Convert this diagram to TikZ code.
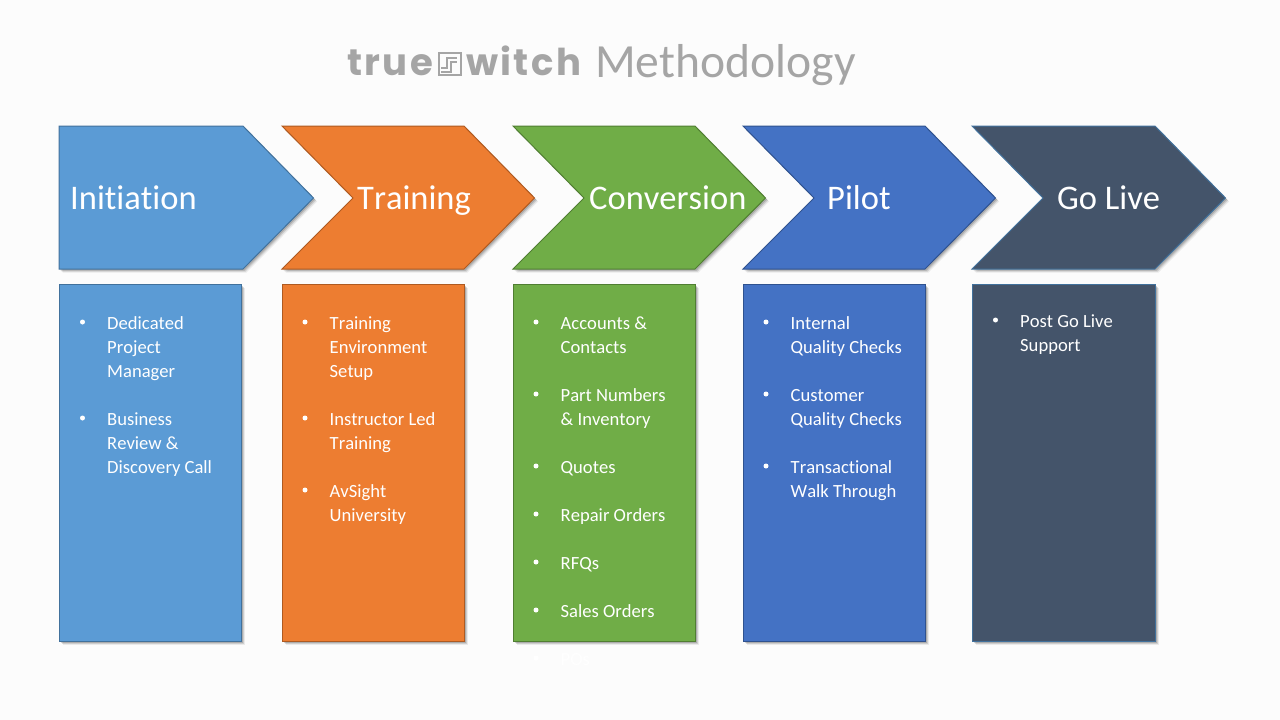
\documentclass[tikz,border=0pt]{standalone}
\usepackage{fontspec}
\setmainfont[Ligatures=NoCommon,Kerning=Off]{Carlito}
\newfontfamily\logofont[LetterSpace=6.5]{Poppins}
\usepackage{tikz}
\usetikzlibrary{shadows}

\definecolor{pageback}{HTML}{FCFCFC}
\definecolor{titlegrey}{HTML}{A5A5A5}
\definecolor{initblue}{HTML}{5B9BD5}
\definecolor{initline}{HTML}{41719C}
\definecolor{trainorange}{HTML}{ED7D31}
\definecolor{trainline}{HTML}{AE5A21}
\definecolor{convgreen}{HTML}{70AD47}
\definecolor{convline}{HTML}{507E32}
\definecolor{pilotblue}{HTML}{4472C4}
\definecolor{pilotline}{HTML}{2F528F}
\definecolor{liveslate}{HTML}{44546A}
\definecolor{liveline}{HTML}{41719C}

\tikzset{
  panel/.style={line width=1pt,
    general shadow={shadow xshift=3.5pt,shadow yshift=-3.5pt,fill=black,opacity=.07},
    general shadow={shadow xshift=2.5pt,shadow yshift=-2.5pt,fill=black,opacity=.12},
    general shadow={shadow xshift=1.5pt,shadow yshift=-1.5pt,fill=black,opacity=.16}},
  stagename/.style={text=white,font=\fontsize{34.5}{34.5}\selectfont,inner sep=0pt,anchor=base west},
  logotext/.style={inner sep=0pt,anchor=base west,text=titlegrey,font=\logofont\bfseries\fontsize{37}{37}\selectfont},
  itemtext/.style={text=white,font=\fontsize{18.6}{24}\selectfont,inner sep=0pt,anchor=north west,align=left},
  itemdot/.style={circle,fill=white,inner sep=0pt,minimum size=5pt},
}
% #1 node name, #2 x of text, #3 y of top, #4 text
\newcommand{\listitem}[4]{
  \node[itemdot] (#1-dot) at (#2-24.5,#3+10.5) {};
  \node[itemtext] (#1) at (#2,#3+.6) {\strut #4};
}

\begin{document}
\begin{tikzpicture}[x=1pt,y=-1pt]
\useasboundingbox[fill=pageback] (0,0) rectangle (1280,720);

% title
\node[logotext] (logotrue) at (347,75) {true};
\node[draw=titlegrey,line width=1.6pt,minimum size=22pt,inner sep=0pt,anchor=south west] (logomark) at (438,76) {};
\begin{scope}[shift={(logomark.south west)},titlegrey,line width=1.3pt]
\draw (3,-8) -- (9,-8) -- (9,-18) -- (19,-18);
\draw (3,-4) -- (13,-4) -- (13,-14) -- (19,-14);
\end{scope}
\node[logotext] (logowitch) at (466,75) {witch};
\node[inner sep=0pt,anchor=base west,text=titlegrey,font=\fontsize{47.6}{47.6}\selectfont] (title) at (595,77) {Methodology};

% chevrons
\draw[panel,fill=initblue,draw=initline] (59,126) -- (243,126) -- (313.5,198) -- (243,269) -- (59,269) -- cycle;
\draw[panel,fill=trainorange,draw=trainline] (282,126) -- (464,126) -- (534.5,198) -- (464,269) -- (282,269) -- (353,198) -- cycle;
\draw[panel,fill=convgreen,draw=convline] (513,126) -- (695,126) -- (765.5,198) -- (695,269) -- (513,269) -- (584,198) -- cycle;
\draw[panel,fill=pilotblue,draw=pilotline] (743,126) -- (925,126) -- (995.5,198) -- (925,269) -- (743,269) -- (814,198) -- cycle;
\draw[panel,fill=liveslate,draw=liveline] (972,126) -- (1155,126) -- (1225.5,198) -- (1155,269) -- (972,269) -- (1043,198) -- cycle;

\node[stagename] (initiation) at (70,209) {Initiation};
\node[stagename] (training) at (357,209) {Training};
\node[stagename] (conversion) at (589,209) {Conversion};
\node[stagename] (pilot) at (827,209) {Pilot};
\node[stagename] (golive) at (1057,209) {Go Live};

% boxes
\draw[panel,fill=initblue,draw=initline] (59,284.5) rectangle (241.5,641);
\draw[panel,fill=trainorange,draw=trainline] (282,284.5) rectangle (464.5,641);
\draw[panel,fill=convgreen,draw=convline] (513,284.5) rectangle (695,641);
\draw[panel,fill=pilotblue,draw=pilotline] (743,284.5) rectangle (925.5,641);
\draw[panel,fill=liveslate,draw=liveline] (972,284.5) rectangle (1155.5,641);

% lists
\listitem{manager}{107}{311.5}{Dedicated\\Project\\Manager}
\listitem{review}{107}{407.5}{Business\\Review \&\\Discovery Call}

\listitem{setup}{329.5}{311.5}{Training\\Environment\\Setup}
\listitem{instructor}{329.5}{407.5}{Instructor Led\\Training}
\listitem{university}{329.5}{479.5}{AvSight\\University}

\listitem{accounts}{560.5}{311.5}{Accounts \&\\Contacts}
\listitem{parts}{560.5}{383.5}{Part Numbers\\\& Inventory}
\listitem{quotes}{560.5}{455.5}{Quotes}
\listitem{repairs}{560.5}{503.5}{Repair Orders}
\listitem{rfqs}{560.5}{551.5}{RFQs}
\listitem{sales}{560.5}{599.5}{Sales Orders}
\listitem{pos}{560.5}{647.5}{POs}

\listitem{internal}{790.5}{311.5}{Internal\\Quality Checks}
\listitem{customer}{790.5}{383.5}{Customer\\Quality Checks}
\listitem{walk}{790.5}{455.5}{Transactional\\Walk Through}

\listitem{support}{1020}{309.5}{Post Go Live\\Support}
\end{tikzpicture}
\end{document}
